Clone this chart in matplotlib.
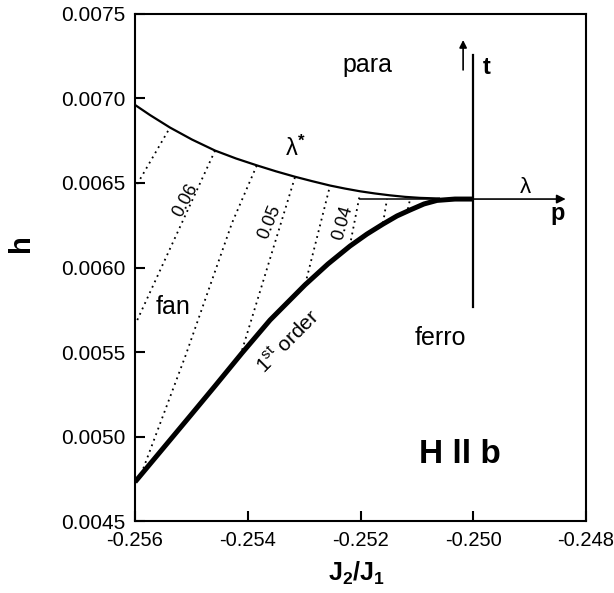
import matplotlib
matplotlib.use("Agg")
import matplotlib.pyplot as plt

plt.rcParams['font.family'] = ['Liberation Sans', 'DejaVu Sans']
plt.rcParams['mathtext.fontset'] = 'custom'
plt.rcParams['mathtext.rm'] = 'Liberation Sans'
plt.rcParams['mathtext.it'] = 'Liberation Sans:italic'
plt.rcParams['mathtext.bf'] = 'Liberation Sans:bold'

# ---- data ----
upper_x = [-0.256000, -0.255734, -0.255379, -0.254989, -0.254581, -0.254208,
           -0.253836, -0.253499, -0.253162, -0.252860, -0.252541, -0.252275,
           -0.252009, -0.251743, -0.251477, -0.251211, -0.250945, -0.250590]
upper_y = [0.006962, 0.006902, 0.006828, 0.006757, 0.006692, 0.006645,
           0.006604, 0.006569, 0.006537, 0.006511, 0.006485, 0.006467,
           0.006451, 0.006438, 0.006427, 0.006418, 0.006412, 0.006408]

lower_x = [-0.256000, -0.255557, -0.255024, -0.254581, -0.254102, -0.253605,
           -0.252985, -0.252577, -0.252186, -0.251885, -0.251601, -0.251353,
           -0.251122, -0.250874, -0.250643, -0.250324, -0.250000]
lower_y = [0.004731, 0.004908, 0.005121, 0.005299, 0.005494, 0.005689,
           0.005897, 0.006021, 0.006127, 0.006198, 0.006257, 0.006305,
           0.006340, 0.006376, 0.006397, 0.006405, 0.006405]

dotted_x = [
    [-0.25596, -0.25538],
    [-0.25596, -0.25458],
    [-0.25589, -0.25510, -0.25428, -0.25384],
    [-0.25410, -0.25316],
    [-0.25298, -0.25254],
    [-0.25219, -0.25201],
    [-0.25160, -0.25153],
    [-0.25116, -0.25112],
]
dotted_y = [
    [0.006494, 0.006828],
    [0.005689, 0.006692],
    [0.004778, 0.005482, 0.006263, 0.006604],
    [0.005512, 0.006537],
    [0.005902, 0.006485],
    [0.006127, 0.006435],
    [0.006263, 0.006405],
    [0.006346, 0.006405],
]

lambda_line_x = [-0.25201, -0.25000]
lambda_line_y = [0.006405, 0.006405]
p_arrow_x = [-0.25000, -0.24836]
p_arrow_y = [0.006405, 0.006405]
t_line_x = [-0.25000, -0.25000]
t_line_y = [0.005766, 0.007257]
t_arrow_x = [-0.25018, -0.25018]
t_arrow_y = [0.007169, 0.007346]

xticks = [-0.256, -0.254, -0.252, -0.250, -0.248]
xtick_labels = ['-0.256', '-0.254', '-0.252', '-0.250', '-0.248']
yticks = [0.0045, 0.0050, 0.0055, 0.0060, 0.0065, 0.0070, 0.0075]
ytick_labels = ['0.0045', '0.0050', '0.0055', '0.0060', '0.0065', '0.0070', '0.0075']

# ---- figure ----
fig = plt.figure(figsize=(6.14, 5.93), dpi=100)
ax = fig.add_axes([0.2199, 0.1214, 0.7345, 0.855])
ax.set_xlim(-0.256, -0.248)
ax.set_ylim(0.0045, 0.0075)

for s in ax.spines.values():
    s.set_linewidth(1.5)

ax.set_xticks(xticks)
ax.set_xticklabels(xtick_labels)
ax.set_yticks(yticks)
ax.set_yticklabels(ytick_labels)
ax.tick_params(direction='in', length=7, width=1.5, top=False, right=False)
ax.tick_params(axis='x', labelsize=14.5, pad=7)
ax.tick_params(axis='y', labelsize=15, pad=7)

ax.plot(upper_x, upper_y, color='k', lw=1.6, solid_capstyle='butt',
        solid_joinstyle='round')
ax.plot(lower_x, lower_y, color='k', lw=3.6, solid_capstyle='butt',
        solid_joinstyle='round')
for dx, dy in zip(dotted_x, dotted_y):
    ax.plot(dx, dy, color='k', lw=1.3, linestyle=(0, (1, 2.3)))

ax.plot(lambda_line_x, lambda_line_y, color='k', lw=1.1)
ax.plot(t_line_x, t_line_y, color='k', lw=1.6)
ax.annotate('', xy=(p_arrow_x[1], p_arrow_y[1]), xytext=(p_arrow_x[0], p_arrow_y[0]),
            arrowprops=dict(arrowstyle='-|>', lw=1.2, color='k', mutation_scale=13,
                            shrinkA=0, shrinkB=0))
ax.annotate('', xy=(t_arrow_x[1], t_arrow_y[1]), xytext=(t_arrow_x[0], t_arrow_y[0]),
            arrowprops=dict(arrowstyle='-|>', lw=1.2, color='k', mutation_scale=11,
                            shrinkA=0, shrinkB=0))

ax.text(-0.25188, 0.007198, 'para', fontsize=18, ha='center', va='center')
ax.text(-0.24976, 0.007186, 't', fontsize=17, fontweight='bold', ha='center', va='center')
ax.text(-0.24908, 0.006476, 'λ', fontsize=16, ha='center', va='center')
ax.text(-0.24850, 0.006322, 'p', fontsize=17, fontweight='bold', ha='center', va='center')
ax.text(-0.25316, 0.006707, r'λ$^{\mathbf{*}}$', fontsize=17, ha='center', va='center')
ax.text(-0.25511, 0.006399, '0.06', fontsize=13, rotation=62, ha='center', va='center')
ax.text(-0.25361, 0.006269, '0.05', fontsize=13, rotation=68, ha='center', va='center')
ax.text(-0.25231, 0.006263, '0.04', fontsize=13, rotation=74, ha='center', va='center')
ax.text(-0.25533, 0.005766, 'fan', fontsize=18, ha='center', va='center')
ax.text(-0.25329, 0.005559, r'1$^{\mathrm{st}}$ order', fontsize=15, rotation=45,
        ha='center', va='center')
ax.text(-0.25059, 0.005583, 'ferro', fontsize=18, ha='center', va='center')
ax.text(-0.25024, 0.004891, 'H ll b', fontsize=24, fontweight='bold', ha='center', va='center')

ax.set_ylabel('h', fontsize=21, fontweight='bold', va='center')
ax.yaxis.set_label_coords(-0.253, 0.548)
ax.set_xlabel(r'$\mathbf{J_2/J_1}$', fontsize=18, va='center')
ax.xaxis.set_label_coords(0.492, -0.103)

fig.savefig('out.png', dpi=100)
